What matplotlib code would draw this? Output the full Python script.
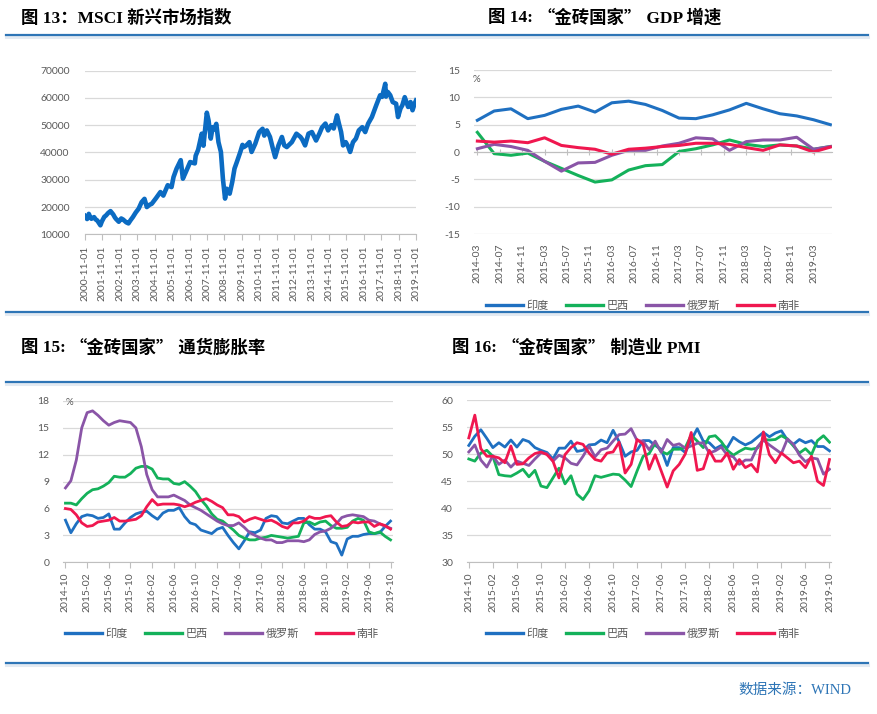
import matplotlib.pyplot as plt
import numpy as np
import pandas as pd
from matplotlib.lines import Line2D

plt.rcParams['font.family'] = ['Lato', 'Noto Sans CJK SC']
plt.rcParams['axes.unicode_minus'] = False

# ---------------- datos ----------------
# MSCI 新兴市场指数 (lecturas aproximadas del gráfico)
msci_fechas = ['2000-11-01', '2000-12-15', '2001-01-20', '2001-02-20', '2001-03-15', '2001-05-10',
               '2001-06-15', '2001-07-15', '2001-09-20', '2001-10-20', '2001-12-10', '2002-01-15',
               '2002-03-01', '2002-04-20', '2002-06-15', '2002-07-20', '2002-08-10', '2002-10-10',
               '2002-12-01', '2003-01-10', '2003-03-15', '2003-05-01', '2003-06-15', '2003-08-01',
               '2003-10-01', '2003-12-01', '2004-02-01', '2004-04-01', '2004-05-20', '2004-07-15',
               '2004-09-01', '2004-12-01', '2005-03-01', '2005-05-01', '2005-08-01', '2005-10-20',
               '2005-12-01', '2006-02-01', '2006-05-01', '2006-06-15', '2006-08-15', '2006-11-15',
               '2007-02-20', '2007-03-10', '2007-05-01', '2007-07-15', '2007-08-20', '2007-10-30',
               '2007-12-05', '2008-01-20', '2008-03-01', '2008-04-01', '2008-05-15', '2008-06-30',
               '2008-08-20', '2008-10-01', '2008-11-15', '2008-12-20', '2009-02-20', '2009-04-15',
               '2009-06-01', '2009-07-20', '2009-10-01', '2009-11-15', '2009-12-15', '2010-02-05',
               '2010-04-10', '2010-05-25', '2010-08-10', '2010-11-01', '2011-01-10', '2011-02-15',
               '2011-04-10', '2011-06-15', '2011-08-15', '2011-10-01', '2011-12-10', '2012-02-20',
               '2012-04-10', '2012-06-01', '2012-09-15', '2012-12-20', '2013-03-15', '2013-04-20',
               '2013-06-20', '2013-08-30', '2013-11-10', '2014-02-05', '2014-04-15', '2014-06-10',
               '2014-08-20', '2014-10-15', '2014-12-20', '2015-02-10', '2015-04-20', '2015-05-30',
               '2015-07-15', '2015-08-25', '2015-10-20', '2015-12-10', '2016-01-20', '2016-03-20',
               '2016-05-20', '2016-07-20', '2016-10-01', '2016-12-01', '2017-02-01', '2017-04-20',
               '2017-07-20', '2017-10-10', '2017-11-20', '2018-01-25', '2018-02-10', '2018-03-20',
               '2018-05-10', '2018-07-01', '2018-09-10', '2018-10-20', '2018-12-10', '2019-01-20',
               '2019-03-10', '2019-05-20', '2019-07-10', '2019-08-20', '2019-10-01', '2019-11-01']
msci_valores = [16700, 15600, 17500, 16200, 15700, 16300,
                15400, 15100, 13300, 14700, 16400, 16900,
                17800, 18500, 17300, 16200, 15700, 14600,
                15800, 15400, 14400, 14000, 15200, 16300,
                18000, 19400, 21800, 23000, 20000, 20800,
                21200, 23300, 25500, 24200, 28000, 27300,
                31000, 34000, 37200, 30400, 32800, 36500,
                36000, 38800, 41000, 46900, 42500, 54600,
                51800, 45100, 49300, 48500, 50500, 43800,
                40200, 30400, 23100, 26700, 24900, 29200,
                34100, 36500, 40200, 42800, 42000, 42600,
                43800, 40200, 43200, 47500, 48700, 46200,
                48100, 45700, 41400, 38300, 42600, 45700,
                42600, 42000, 43800, 46900, 45700, 44800,
                42600, 46900, 47500, 44400, 46900, 49200,
                50600, 48100, 50000, 48800, 53600, 50600,
                47500, 42600, 43800, 42200, 40200, 43800,
                45100, 48100, 49300, 47500, 50600, 53000,
                57300, 61000, 60400, 65200, 60500, 62200,
                61000, 58500, 57900, 53000, 56100, 57400,
                60300, 56700, 58500, 55500, 57800, 59100]

paises = ['印度', '巴西', '俄罗斯', '南非']
colores = ['#1F70C1', '#14B15A', '#8A55A7', '#F0174F']

# GDP 增速 (trimestral, 2014-03 a 2019-06)
gdp_inicio = '2014-03'
gdp_india = [5.8, 7.5, 7.9, 6.1, 6.7, 7.8, 8.4, 7.3, 9.0, 9.3, 8.7, 7.6, 6.2, 6.1, 6.8, 7.7, 8.9, 7.9, 7.0, 6.6, 5.9, 5.0]
gdp_brasil = [3.6, -0.3, -0.6, -0.2, -1.7, -3.0, -4.3, -5.5, -5.1, -3.3, -2.5, -2.3, 0.1, 0.6, 1.3, 2.2, 1.4, 1.0, 1.3, 1.1, 0.5, 1.0]
gdp_rusia = [0.6, 1.4, 1.0, 0.3, -1.7, -3.5, -2.0, -1.9, -0.6, 0.3, 0.3, 1.1, 1.6, 2.6, 2.4, 0.3, 1.9, 2.2, 2.2, 2.7, 0.5, 1.0]
gdp_sudafrica = [2.0, 1.8, 2.0, 1.7, 2.6, 1.2, 0.8, 0.5, -0.4, 0.5, 0.7, 1.0, 1.2, 1.6, 1.6, 1.4, 0.8, 0.3, 1.3, 1.1, 0.0, 0.9]

# 通货膨胀率 (mensual, 2014-10 a 2019-10)
mes_inicio = '2014-10'
ipc_india = [4.7, 3.3, 4.3, 5.1, 5.3, 5.2, 4.9, 5.0, 5.4, 3.7, 3.7, 4.4, 5.0, 5.4, 5.6, 5.7, 5.2, 4.8, 5.5, 5.8,
             5.8, 6.1, 5.1, 4.4, 4.2, 3.6, 3.4, 3.2, 3.7, 3.9, 3.0, 2.2, 1.5, 2.4, 3.4, 3.3, 3.6, 4.9, 5.2, 5.1,
             4.4, 4.3, 4.6, 4.9, 4.9, 4.2, 3.7, 3.7, 3.4, 2.3, 2.1, 0.8, 2.6, 2.9, 2.9, 3.1, 3.2, 3.2, 3.3, 4.0, 4.6]
ipc_brasil = [6.6, 6.6, 6.4, 7.1, 7.7, 8.1, 8.2, 8.5, 8.9, 9.6, 9.5, 9.5, 9.9, 10.5, 10.7, 10.7, 10.4, 9.4, 9.3, 9.3,
              8.8, 8.7, 9.0, 8.5, 7.9, 7.0, 6.3, 5.4, 4.8, 4.6, 4.1, 3.6, 3.0, 2.7, 2.5, 2.5, 2.7, 2.8, 3.0, 2.9,
              2.8, 2.7, 2.8, 2.9, 4.4, 4.5, 4.2, 4.5, 4.6, 4.1, 3.8, 3.8, 3.9, 4.6, 4.9, 4.7, 3.4, 3.2, 3.4, 2.9, 2.5]
ipc_rusia = [8.3, 9.1, 11.4, 15.0, 16.7, 16.9, 16.4, 15.8, 15.3, 15.6, 15.8, 15.7, 15.6, 15.0, 12.9, 9.8, 8.1, 7.3, 7.3, 7.3,
             7.5, 7.2, 6.9, 6.4, 6.1, 5.8, 5.4, 5.0, 4.6, 4.3, 4.1, 4.1, 4.4, 3.9, 3.3, 3.0, 2.7, 2.5, 2.5, 2.2,
             2.2, 2.4, 2.4, 2.4, 2.3, 2.5, 3.1, 3.4, 3.5, 3.8, 4.3, 5.0, 5.2, 5.3, 5.2, 5.1, 4.7, 4.6, 4.3, 4.0, 3.8]
ipc_sudafrica = [6.0, 5.9, 5.3, 4.4, 4.0, 4.1, 4.5, 4.6, 4.7, 5.0, 4.6, 4.6, 4.7, 4.8, 5.2, 6.2, 7.0, 6.4, 6.5, 6.5,
                 6.5, 6.4, 6.2, 6.4, 6.7, 6.9, 7.1, 6.8, 6.4, 6.1, 5.3, 5.3, 5.1, 4.5, 4.8, 5.0, 4.8, 4.6, 4.7, 4.4,
                 4.0, 3.8, 4.4, 4.4, 4.6, 5.1, 4.9, 4.9, 5.1, 5.2, 4.5, 4.0, 4.1, 4.5, 4.4, 4.5, 4.5, 4.0, 4.3, 4.1, 3.7]

# 制造业 PMI (mensual, 2014-10 a 2019-10)
pmi_india = [51.6, 53.3, 54.5, 52.9, 51.2, 52.1, 51.3, 52.6, 51.3, 52.7, 52.3, 51.2, 50.7, 50.3, 49.1, 51.1, 51.1, 52.4, 50.5, 50.7,
             51.7, 51.8, 52.6, 52.1, 54.4, 52.3, 49.6, 50.4, 50.7, 52.5, 52.5, 51.6, 50.9, 47.9, 51.2, 51.2, 50.3, 52.6, 54.7, 52.4,
             52.1, 51.0, 51.6, 51.2, 53.1, 52.3, 51.7, 52.2, 53.1, 54.0, 53.2, 53.9, 54.3, 52.6, 51.8, 52.7, 52.1, 52.5, 51.4, 51.4, 50.6]
pmi_brasil = [49.1, 48.7, 50.2, 50.7, 49.6, 46.2, 46.0, 45.9, 46.5, 47.2, 45.8, 47.0, 44.1, 43.8, 45.6, 47.4, 44.5, 46.0, 42.6, 41.6,
              43.2, 46.0, 45.7, 46.0, 46.3, 46.2, 45.2, 44.0, 46.9, 49.6, 50.1, 52.0, 50.5, 50.0, 50.9, 50.9, 51.2, 53.5, 52.4, 51.2,
              53.2, 53.4, 52.3, 50.7, 49.8, 50.5, 51.1, 50.9, 51.1, 52.7, 52.6, 52.7, 53.4, 52.8, 51.5, 50.2, 51.0, 49.9, 52.5, 53.4, 52.2]
pmi_rusia = [50.4, 51.7, 48.9, 47.6, 49.7, 48.1, 48.9, 47.6, 48.7, 48.3, 47.9, 49.1, 50.2, 50.1, 48.7, 49.8, 49.3, 48.3, 48.0, 49.6,
             51.5, 49.5, 50.8, 51.1, 52.4, 53.6, 53.7, 54.7, 52.5, 52.4, 50.8, 52.4, 50.3, 52.7, 51.6, 51.9, 51.1, 51.5, 52.0, 52.1,
             50.2, 50.6, 51.3, 49.8, 49.5, 48.1, 48.9, 48.9, 51.3, 52.6, 51.7, 50.9, 50.1, 52.8, 51.8, 49.8, 48.6, 49.3, 49.1, 46.3, 47.2]
pmi_sudafrica = [53.0, 57.2, 51.0, 49.6, 49.6, 49.3, 48.4, 51.5, 48.1, 48.2, 49.3, 50.1, 50.4, 49.9, 48.7, 45.6, 49.9, 51.2, 52.1, 51.8,
                 50.2, 49.0, 48.7, 50.2, 50.4, 52.2, 46.5, 48.1, 52.7, 51.8, 47.2, 49.9, 46.9, 43.9, 46.9, 48.1, 50.0, 54.0, 47.0, 47.3,
                 50.7, 48.7, 48.7, 50.2, 47.2, 49.0, 47.5, 48.1, 46.7, 54.1, 49.9, 48.4, 50.2, 49.3, 48.4, 48.7, 47.5, 49.6, 45.0, 44.2, 49.0]

# ---------------- estilo ----------------
W, H = 878, 714
GRIS = '#595959'
REJILLA = '#D9D9D9'
AZUL = '#2E75B6'
SERIF = ['Liberation Serif', 'Noto Sans CJK SC']
CJK = ['Noto Sans CJK SC']


def caja(x0, y0, x1, y1):
    # convertir píxeles de la imagen a fracciones de la figura
    return [x0 / W, 1 - y1 / H, (x1 - x0) / W, (y1 - y0) / H]


def estilo_ejes(ax):
    for s in ['top', 'right', 'left']:
        ax.spines[s].set_visible(False)
    ax.spines['bottom'].set_color('#BFBFBF')
    ax.yaxis.grid(True, color=REJILLA, lw=0.9)
    ax.set_axisbelow(True)
    ax.tick_params(axis='y', length=0, labelsize=7.5, labelcolor=GRIS)
    ax.tick_params(axis='x', labelsize=7.5, labelcolor=GRIS, color='#BFBFBF', length=4)


def etiquetas_meses(inicio, n, paso=4):
    periodos = pd.period_range(inicio, periods=n, freq='M')
    pos = np.arange(0, n, paso)
    return pos, [str(periodos[i]) for i in pos]


fig = plt.figure(figsize=(W / 100, H / 100), dpi=100)
rend = fig.canvas.get_renderer()


def titulo(x, y, partes):
    # escribe el título por trozos, cada uno con su familia de letra
    x = x / W
    for txt, fam in partes:
        t = fig.text(x, 1 - y / H, txt, fontsize=12.5, fontweight='bold', family=fam,
                     va='center', ha='left', color='black')
        x += t.get_window_extent(rend).width / W


# líneas azules separadoras
for yy in [34.5, 312.3, 382, 663]:
    fig.add_artist(Line2D([6 / W, 868 / W], [1 - (yy + 2) / H] * 2, color='#E3EAF2', lw=2.2))
    fig.add_artist(Line2D([6 / W, 868 / W], [1 - yy / H] * 2, color=AZUL, lw=1.6))

# títulos
titulo(20.7, 18, [('图 13：MSCI 新兴市场指数', SERIF)])
titulo(488, 18, [('图 14: ', SERIF), ('“金砖国家”', CJK), (' GDP 增速', SERIF)])
titulo(20.7, 348, [('图 15: ', SERIF), ('“金砖国家”', CJK), (' 通货膨胀率', SERIF)])
titulo(452, 348, [('图 16: ', SERIF), ('“金砖国家”', CJK), (' 制造业 PMI', SERIF)])

# ---- 图13 ----
ax1 = fig.add_axes(caja(85, 70.7, 416, 234.3))
estilo_ejes(ax1)
ax1.plot(pd.to_datetime(msci_fechas), msci_valores, color='#0B6BC2', lw=3.3, solid_joinstyle='round')
ax1.set_ylim(10000, 70000)
ax1.set_yticks(np.arange(10000, 70001, 10000))
ax1.tick_params(axis='y', pad=11)
anos = pd.date_range('2000-11-01', '2019-11-01', freq='12MS')
ax1.set_xlim(anos[0], anos[-1])
ax1.set_xticks(anos)
ax1.set_xticklabels([d.strftime('%Y-%m-%d') for d in anos], rotation=90)
ax1.tick_params(axis='x', pad=4)

# ---- 图14 ----
ax2 = fig.add_axes(caja(474, 70, 832, 234))
estilo_ejes(ax2)
x_gdp = np.arange(len(gdp_india)) * 3
for serie, col in zip([gdp_india, gdp_brasil, gdp_rusia, gdp_sudafrica], colores):
    ax2.plot(x_gdp, serie, color=col, lw=2.2)
ax2.set_ylim(-15, 15)
ax2.set_yticks(np.arange(-15, 16, 5))
ax2.tick_params(axis='y', pad=10)
ax2.set_xlim(-0.6, 63.3)
pos, lbl = etiquetas_meses(gdp_inicio, 61)
ax2.spines['bottom'].set_position(('data', 0))
ax2.set_xticks(pos)
ax2.tick_params(axis='x', labelbottom=False, direction='inout', length=4)
sec = ax2.secondary_xaxis('bottom')
sec.set_xticks(pos)
sec.set_xticklabels(lbl, rotation=90)
sec.tick_params(length=0, labelsize=7.5, labelcolor=GRIS, pad=7)
sec.spines['bottom'].set_visible(False)
ax2.text(-0.003, 0.945, '%', transform=ax2.transAxes, fontsize=7, color=GRIS, ha='left', va='center')

# ---- 图15 ----
x_mes = np.arange(len(ipc_india))
ax3 = fig.add_axes(caja(63.3, 401, 392.7, 562.3))
estilo_ejes(ax3)
for serie, col in zip([ipc_india, ipc_brasil, ipc_rusia, ipc_sudafrica], colores):
    ax3.plot(x_mes, serie, color=col, lw=2.0)
ax3.set_ylim(0, 18)
ax3.set_yticks(np.arange(0, 19, 3))
ax3.tick_params(axis='y', pad=10)
ax3.set_xlim(-0.4, 60.4)
pos, lbl = etiquetas_meses(mes_inicio, 61)
ax3.set_xticks(pos)
ax3.set_xticklabels(lbl, rotation=90)
ax3.tick_params(axis='x', pad=3)
ax3.text(0.006, 0.99, '%', transform=ax3.transAxes, fontsize=7, color=GRIS, ha='left', va='center')

# ---- 图16 ----
ax4 = fig.add_axes(caja(467, 400, 831.3, 562.3))
estilo_ejes(ax4)
for serie, col in zip([pmi_india, pmi_brasil, pmi_rusia, pmi_sudafrica], colores):
    ax4.plot(x_mes, serie, color=col, lw=2.0)
ax4.set_ylim(30, 60)
ax4.set_yticks(np.arange(30, 61, 5))
ax4.tick_params(axis='y', pad=10)
ax4.set_xlim(-0.3, 60.3)
ax4.set_xticks(pos)
ax4.set_xticklabels(lbl, rotation=90)
ax4.tick_params(axis='x', pad=3)

# leyendas
manijas = [Line2D([], [], color=c, lw=2.4) for c in colores]
for cx, cy in [(643, 305), (222, 633), (643, 633)]:
    fig.legend(manijas, paises, loc='center', bbox_to_anchor=(cx / W, 1 - cy / H), ncol=4,
               frameon=False, fontsize=8, labelcolor=GRIS, handlelength=3.3, handletextpad=0.3,
               columnspacing=1.6)

# fuente
fig.text(851 / W, 1 - 690 / H, '数据来源：WIND', fontsize=10.5, family=SERIF,
         color=AZUL, ha='right', va='center')

fig.savefig('out.png', dpi=100)
